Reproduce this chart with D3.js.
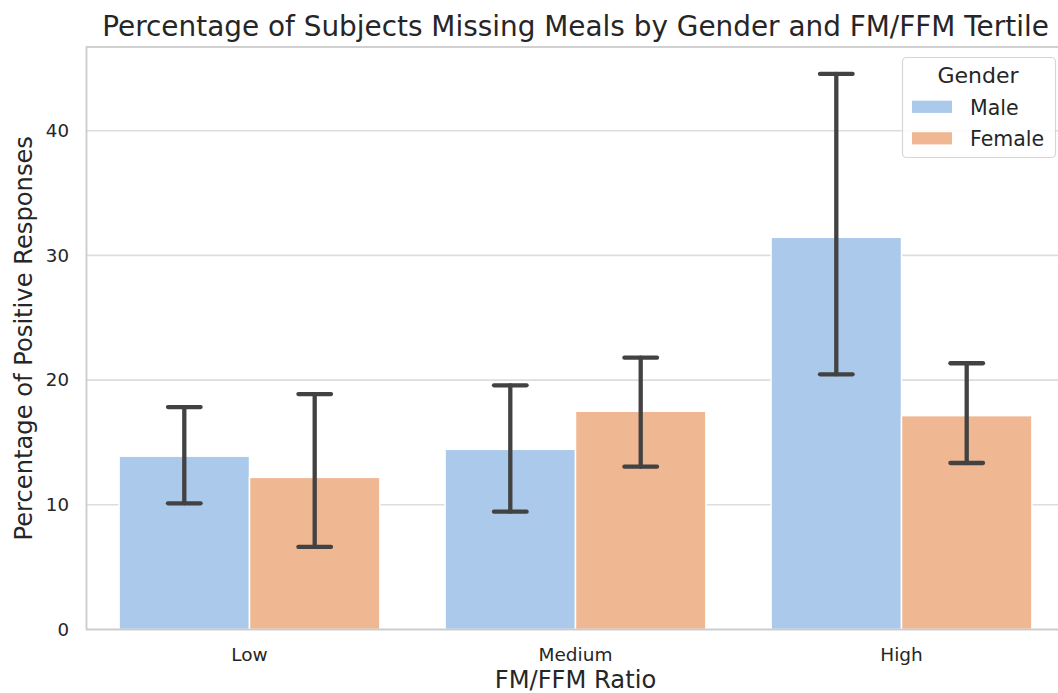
<!DOCTYPE html>
<html>
<head>
<meta charset="utf-8">
<script src="https://cdn.jsdelivr.net/npm/d3@7"></script>
<style>
  html, body { margin: 0; padding: 0; background: #fff; }
  svg { display: block; font-family: "DejaVu Sans", sans-serif; }
</style>
</head>
<body>
<svg id="chart" width="1058" height="693"></svg>
<script>
// ---- data ----
const categories = ["Low", "Medium", "High"];
const genders = ["Male", "Female"];
const maleValues = [13.9, 14.45, 31.45];
const femaleValues = [12.2, 17.5, 17.15];
const maleErrLow = [10.12, 9.45, 20.46];
const maleErrHigh = [17.84, 19.58, 44.55];
const femaleErrLow = [6.62, 13.06, 13.35];
const femaleErrHigh = [18.88, 21.8, 21.35];
const yTicks = [0, 10, 20, 30, 40];
const colors = ["#abc9ea", "#efb792"];

(function () {
const rows = [];
categories.forEach((c, i) => {
  rows.push({cat: c, g: "Male", v: maleValues[i], lo: maleErrLow[i], hi: maleErrHigh[i]});
  rows.push({cat: c, g: "Female", v: femaleValues[i], lo: femaleErrLow[i], hi: femaleErrHigh[i]});
});

const svg = d3.select("#chart");
const pLeft = 86.5, pRight = 1064.5, pTop = 47, pBottom = 629.5;
const textColor = "#262626";

const x = d3.scaleBand().domain(categories).range([pLeft, pRight]).paddingInner(0.2).paddingOuter(0.1);
const xSub = d3.scaleBand().domain(genders).range([0, x.bandwidth()]);
const y = d3.scaleLinear().domain([0, 46.71]).range([pBottom, pTop]);
const color = d3.scaleOrdinal().domain(genders).range(colors);

// grid
svg.append("g").selectAll("line").data(yTicks).join("line")
  .attr("x1", pLeft).attr("x2", pRight)
  .attr("y1", d => y(d)).attr("y2", d => y(d))
  .attr("stroke", "#dddddd").attr("stroke-width", 1.6);

// bars
svg.append("g").selectAll("rect").data(rows).join("rect")
  .attr("x", d => x(d.cat) + xSub(d.g))
  .attr("width", xSub.bandwidth())
  .attr("y", d => y(d.v))
  .attr("height", d => y(0) - y(d.v))
  .attr("fill", d => color(d.g))
  .attr("stroke", "#ffffff").attr("stroke-width", 1.5);

// error bars
const eb = svg.append("g").attr("stroke", "#424242").attr("stroke-width", 4.3).attr("stroke-linecap", "round");
const cx = d => x(d.cat) + xSub(d.g) + xSub.bandwidth() / 2;
const capHalf = 16.3;
eb.selectAll("line.v").data(rows).join("line").attr("class", "v")
  .attr("x1", cx).attr("x2", cx).attr("y1", d => y(d.lo)).attr("y2", d => y(d.hi));
eb.selectAll("line.lo").data(rows).join("line").attr("class", "lo")
  .attr("x1", d => cx(d) - capHalf).attr("x2", d => cx(d) + capHalf)
  .attr("y1", d => y(d.lo)).attr("y2", d => y(d.lo));
eb.selectAll("line.hi").data(rows).join("line").attr("class", "hi")
  .attr("x1", d => cx(d) - capHalf).attr("x2", d => cx(d) + capHalf)
  .attr("y1", d => y(d.hi)).attr("y2", d => y(d.hi));

// spines
const spine = svg.append("g").attr("stroke", "#cccccc").attr("stroke-width", 1.8).attr("fill", "none");
spine.append("rect").attr("x", pLeft).attr("y", pTop).attr("width", pRight - pLeft).attr("height", pBottom - pTop);

// y axis ticks
const yAxis = d3.axisLeft(y).tickValues(yTicks).tickSize(0).tickPadding(17.5);
const gy = svg.append("g").attr("transform", `translate(${pLeft},0)`).call(yAxis);
gy.select(".domain").remove();
gy.selectAll("text").attr("font-size", 18.2).attr("fill", textColor).attr("font-family", "DejaVu Sans");

// x axis ticks
const xAxis = d3.axisBottom(x).tickSize(0).tickPadding(18);
const gx = svg.append("g").attr("transform", `translate(0,${pBottom})`).call(xAxis);
gx.select(".domain").remove();
gx.selectAll("text").attr("font-size", 18.5).attr("fill", textColor).attr("font-family", "DejaVu Sans");

// title and labels
svg.append("text").attr("x", (pLeft + pRight) / 2).attr("y", 36).attr("text-anchor", "middle")
  .attr("font-size", 27.9).attr("fill", textColor).text("Percentage of Subjects Missing Meals by Gender and FM/FFM Tertile");
svg.append("text").attr("x", (pLeft + pRight) / 2).attr("y", 688).attr("text-anchor", "middle")
  .attr("font-size", 24.2).attr("fill", textColor).text("FM/FFM Ratio");
svg.append("text").attr("transform", `translate(32,${(pTop + pBottom) / 2}) rotate(-90)`).attr("text-anchor", "middle")
  .attr("font-size", 24.2).attr("fill", textColor).text("Percentage of Positive Responses");

// legend
const lg = svg.append("g");
lg.append("rect").attr("x", 902.5).attr("y", 57.5).attr("width", 153).attr("height", 100).attr("rx", 4)
  .attr("fill", "#ffffff").attr("fill-opacity", 0.85).attr("stroke", "#d6d6d6").attr("stroke-width", 1.2);
lg.append("text").attr("x", 978).attr("y", 83).attr("text-anchor", "middle")
  .attr("font-size", 22).attr("fill", textColor).text("Gender");
genders.forEach((g, i) => {
  const yy = 100.7 + i * 31.5;
  lg.append("rect").attr("x", 912).attr("y", yy).attr("width", 40).attr("height", 12.2).attr("fill", color(g));
  lg.append("text").attr("x", 970).attr("y", yy + 13.8).attr("font-size", 20.5).attr("fill", textColor).text(g);
});
})();
</script>
</body>
</html>
